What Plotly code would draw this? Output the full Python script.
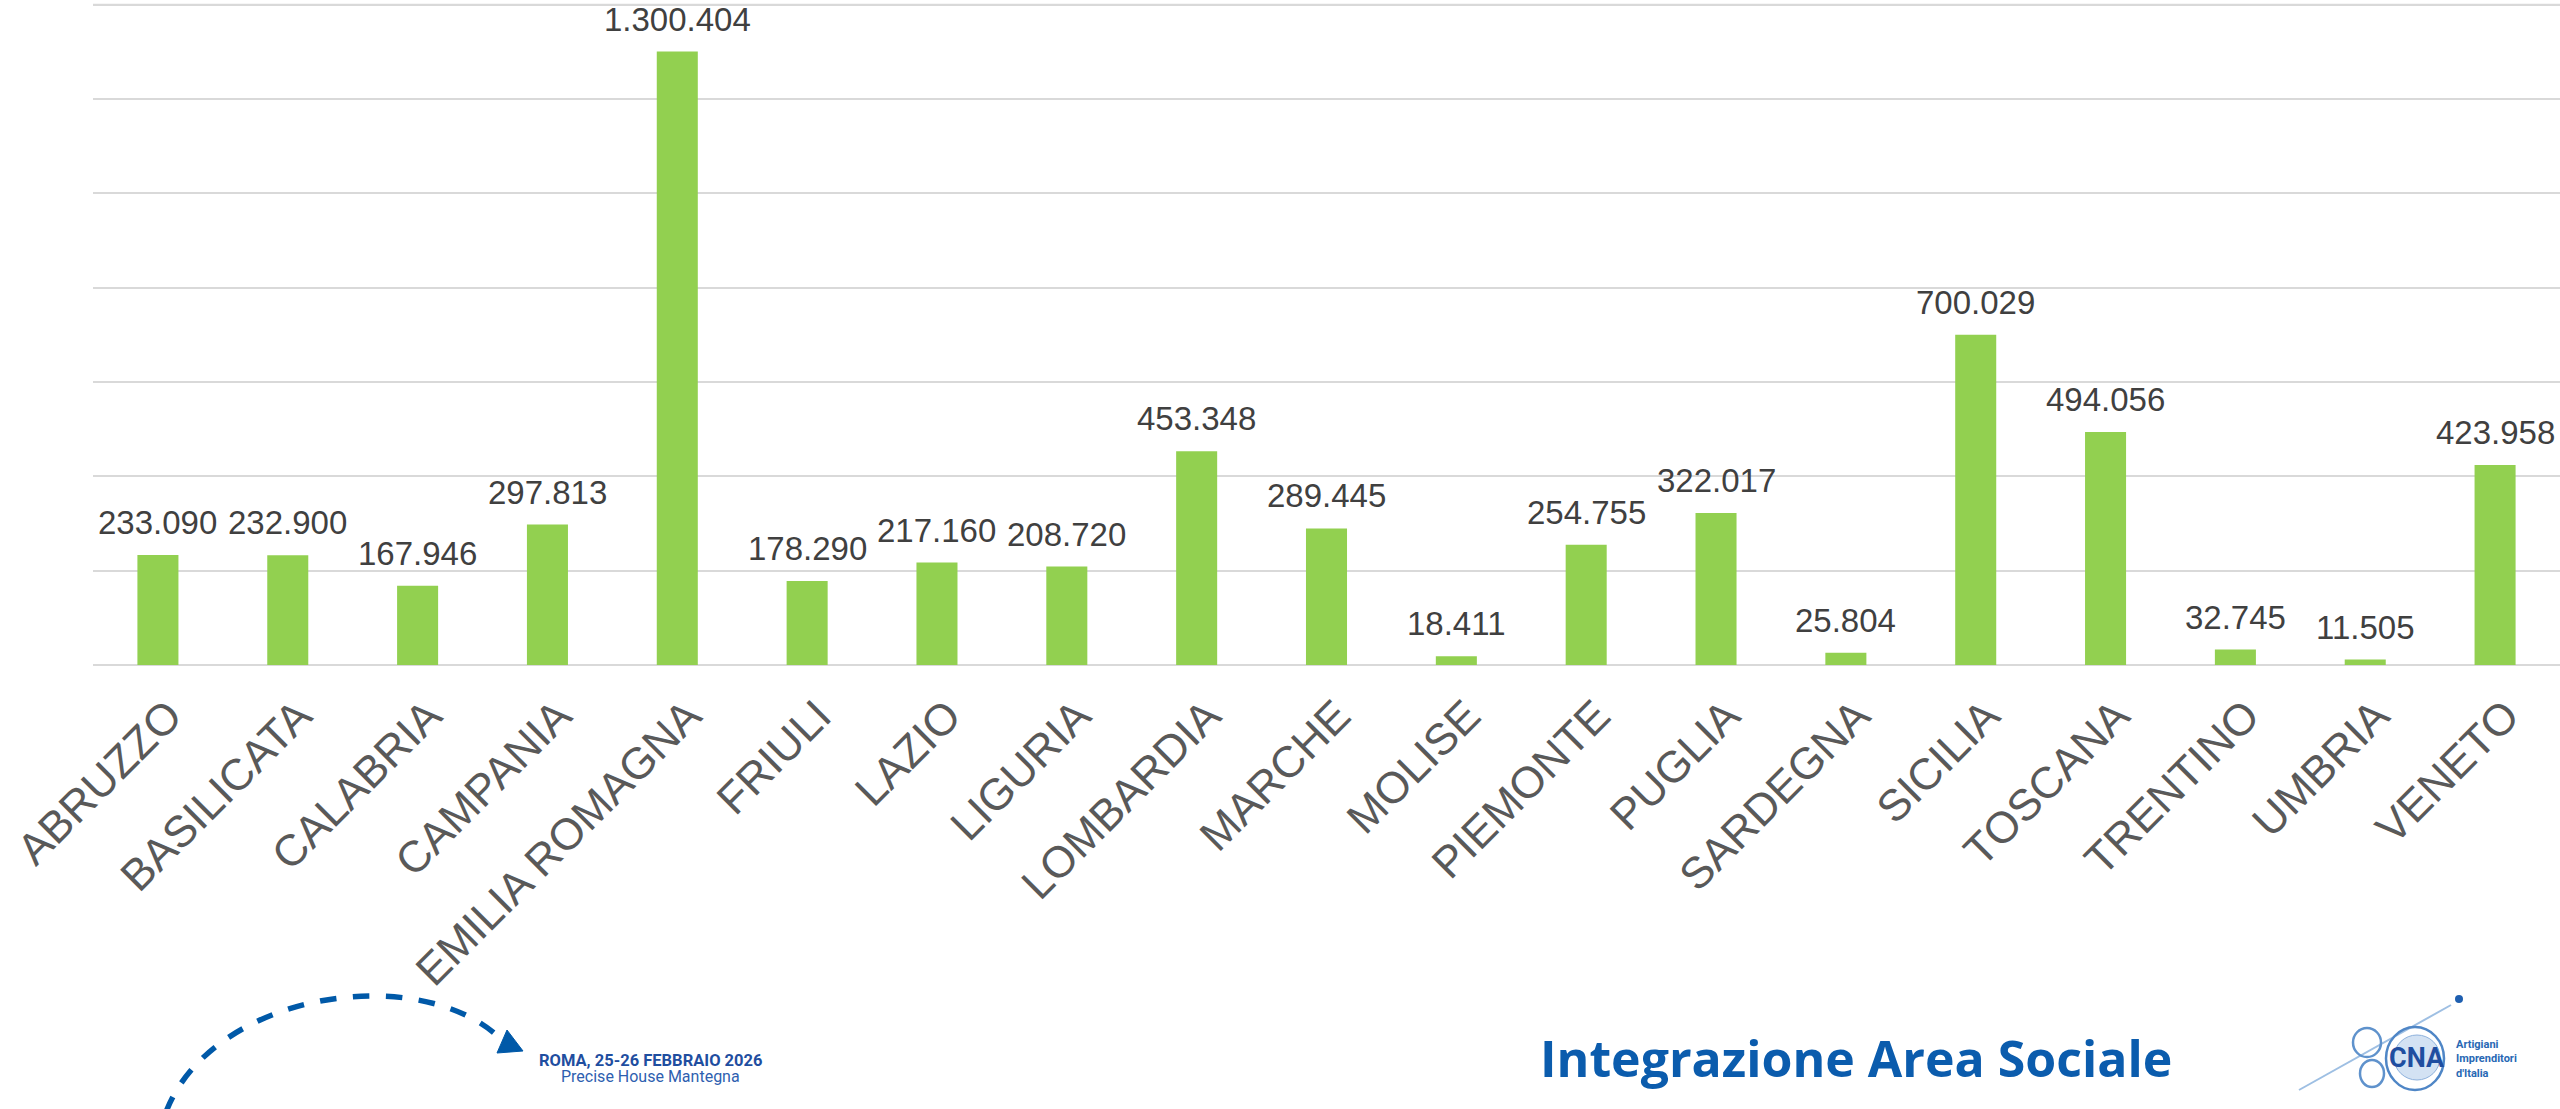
import plotly.graph_objects as go

regions = ["ABRUZZO", "BASILICATA", "CALABRIA", "CAMPANIA", "EMILIA ROMAGNA", "FRIULI",
           "LAZIO", "LIGURIA", "LOMBARDIA", "MARCHE", "MOLISE", "PIEMONTE", "PUGLIA",
           "SARDEGNA", "SICILIA", "TOSCANA", "TRENTINO", "UMBRIA", "VENETO"]
values = [233090, 232900, 167946, 297813, 1300404, 178290, 217160, 208720, 453348,
          289445, 18411, 254755, 322017, 25804, 700029, 494056, 32745, 11505, 423958]
y_max = 1400000
y_step = 200000

W, H = 2560, 1109
L, R, T, B = 93, 0, 2, 444
PW, PH = W - L - R, H - T - B

def px(x, y):
    return (x - L) / PW, (H - B - y) / PH

BLUE = "#0B5CAD"
LOGO = "#2868B4"

fig = go.Figure()
fig.add_trace(go.Bar(x=regions, y=values, marker=dict(color="#92D050", line=dict(width=0)),
                     hoverinfo="skip"))

annotations = []
for r, v in zip(regions, values):
    annotations.append(dict(x=r, y=v, xref="x", yref="y", text=f"{v:,}".replace(",", "."),
                            showarrow=False, yanchor="bottom", yshift=12,
                            font=dict(family="Liberation Sans, Arial", size=33, color="#404040")))

# footer texts
x0, y0 = px(1856, 1058)
annotations.append(dict(x=x0, y=y0, xref="paper", yref="paper", text="<b>Integrazione Area Sociale</b>",
                        showarrow=False, xanchor="center", yanchor="middle",
                        font=dict(family="Open Sans", size=50, color=BLUE)))
x0, y0 = px(650, 1060)
annotations.append(dict(x=x0, y=y0, xref="paper", yref="paper", text="<b>ROMA, 25-26 FEBBRAIO 2026</b>",
                        showarrow=False, xanchor="center", yanchor="middle",
                        font=dict(family="Roboto", size=16.5, color="#1F4EA0")))
x0, y0 = px(650, 1076)
annotations.append(dict(x=x0, y=y0, xref="paper", yref="paper", text="Precise House Mantegna",
                        showarrow=False, xanchor="center", yanchor="middle",
                        font=dict(family="Roboto", size=16, color="#2E5FB0")))
x0, y0 = px(2417, 1058)
annotations.append(dict(x=x0, y=y0, xref="paper", yref="paper", text="<b>CNA</b>",
                        showarrow=False, xanchor="center", yanchor="middle",
                        font=dict(family="Liberation Sans Narrow, Roboto", size=27, color="#1F4EA0")))
x0, y0 = px(2454, 1059)
annotations.append(dict(x=x0, y=y0, xref="paper", yref="paper",
                        text="<b>Artigiani<br>Imprenditori<br>d'Italia</b>",
                        showarrow=False, xanchor="left", yanchor="middle", align="left",
                        font=dict(family="Liberation Sans Narrow, Roboto", size=11, color=LOGO)))

shapes = []
# top gridline
shapes.append(dict(type="line", xref="paper", yref="y", x0=0, x1=1, y0=y_max, y1=y_max,
                   line=dict(color="#D9D9D9", width=2), layer="below"))
# dashed arc
p0 = px(166, 1112); c1 = px(212, 992); c2 = px(420, 960); p1 = px(502, 1040)
shapes.append(dict(type="path", xref="paper", yref="paper",
                   path=f"M {p0[0]},{p0[1]} C {c1[0]},{c1[1]} {c2[0]},{c2[1]} {p1[0]},{p1[1]}",
                   line=dict(color="#0059A8", width=5.5, dash="dash")))
a = px(523, 1051); b_ = px(497, 1053); c = px(507, 1030)
shapes.append(dict(type="path", xref="paper", yref="paper",
                   path=f"M {a[0]},{a[1]} L {b_[0]},{b_[1]} L {c[0]},{c[1]} Z",
                   fillcolor="#0059A8", line=dict(color="#0059A8", width=1)))
# logo
l0 = px(2299, 1090); l1 = px(2451, 1005)
shapes.append(dict(type="line", xref="paper", yref="paper", x0=l0[0], y0=l0[1], x1=l1[0], y1=l1[1],
                   line=dict(color="#9EBFE3", width=2)))
q0 = px(2386, 1027); q1 = px(2444, 1090)
shapes.append(dict(type="circle", xref="paper", yref="paper", x0=q0[0], y0=q0[1], x1=q1[0], y1=q1[1],
                   line=dict(color="#4F86C6", width=2.5)))
q0 = px(2353, 1028); q1 = px(2381, 1057)
shapes.append(dict(type="circle", xref="paper", yref="paper", x0=q0[0], y0=q0[1], x1=q1[0], y1=q1[1],
                   line=dict(color="#5F92CC", width=2.5)))
q0 = px(2360, 1060); q1 = px(2384, 1087)
shapes.append(dict(type="circle", xref="paper", yref="paper", x0=q0[0], y0=q0[1], x1=q1[0], y1=q1[1],
                   line=dict(color="#5F92CC", width=2.5)))
q0 = px(2394, 1035); q1 = px(2440, 1080)
shapes.append(dict(type="circle", xref="paper", yref="paper", x0=q0[0], y0=q0[1], x1=q1[0], y1=q1[1],
                   fillcolor="#D3E2F3", line=dict(color="#8DB1DC", width=1)))
q0 = px(2455, 995); q1 = px(2463, 1003)
shapes.append(dict(type="circle", xref="paper", yref="paper", x0=q0[0], y0=q0[1], x1=q1[0], y1=q1[1],
                   fillcolor="#1F5FB0", line=dict(width=0)))

fig.update_layout(
    width=W, height=H,
    margin=dict(l=L, r=R, t=T, b=B, pad=0, autoexpand=False),
    paper_bgcolor="white", plot_bgcolor="white",
    bargap=0.684, showlegend=False,
    annotations=annotations, shapes=shapes,
    xaxis=dict(type="category", tickangle=-45, showgrid=False, showline=False, ticks="",
               automargin=False, ticklabelstandoff=15, ticklabelshift=11,
               tickfont=dict(family="Liberation Sans, Arial", size=44, color="#595959")),
    yaxis=dict(range=[0, y_max * 1.004], dtick=y_step, showticklabels=False, showgrid=True,
               automargin=False,
               gridcolor="#D9D9D9", gridwidth=2, zeroline=True, zerolinecolor="#D9D9D9",
               zerolinewidth=2, showline=False),
)
fig.write_html("out.html", config={"displayModeBar": False},
               post_script="document.body.style.margin='0';document.body.style.overflow='hidden';")
